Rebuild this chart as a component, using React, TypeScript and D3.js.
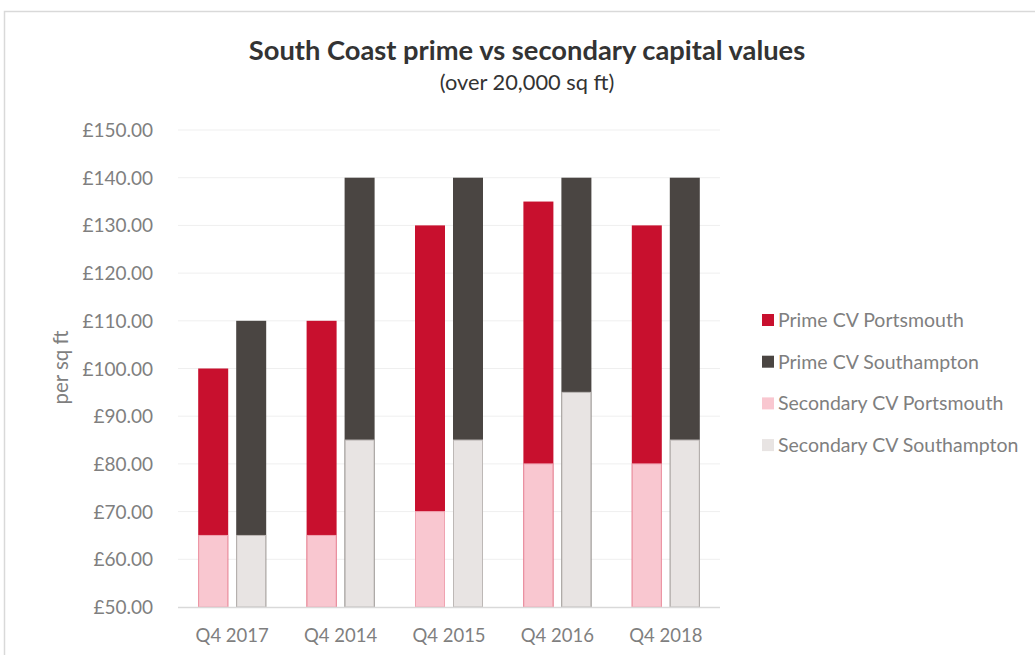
import React from "react";
import * as d3 from "d3";

const categories = ["Q4 2017", "Q4 2014", "Q4 2015", "Q4 2016", "Q4 2018"];
const primePortsmouth = [100, 110, 130, 135, 130];
const primeSouthampton = [110, 140, 140, 140, 140];
const secondaryPortsmouth = [65, 65, 70, 80, 80];
const secondarySouthampton = [65, 85, 85, 95, 85];
const yTicks = [50, 60, 70, 80, 90, 100, 110, 120, 130, 140, 150];
const legendLabels = [
  "Prime CV Portsmouth",
  "Prime CV Southampton",
  "Secondary CV Portsmouth",
  "Secondary CV Southampton",
];

const W = 1035;
const H = 655;
const FONT = "Lato, 'Open Sans', sans-serif";

export default function App() {
  const left = 178, right = 720, top = 130, bottom = 607;
  const x = d3.scaleBand<string>().domain(categories).range([left, right]);
  const y = d3.scaleLinear().domain([50, 150]).range([bottom, top]);
  const barW = 30;
  const gap = 8;
  const colors = ["#c8102e", "#4a4542", "#f9c7d0", "#e8e4e3"];
  const strokes = ["none", "none", "#f0a3b1", "#bdb8b6"];

  const bars: JSX.Element[] = [];
  categories.forEach((c, i) => {
    const cx = (x(c) as number) + x.bandwidth() / 2;
    const lx = cx - gap / 2 - barW;
    const rx = cx + gap / 2;
    const series = [
      { v: primePortsmouth[i], xx: lx, k: 0 },
      { v: primeSouthampton[i], xx: rx, k: 1 },
      { v: secondaryPortsmouth[i], xx: lx, k: 2 },
      { v: secondarySouthampton[i], xx: rx, k: 3 },
    ];
    series.forEach((s) => {
      bars.push(
        <rect
          key={`${c}-${s.k}`}
          x={s.xx + (s.k >= 2 ? 0.5 : 0)}
          y={y(s.v)}
          width={barW - (s.k >= 2 ? 1 : 0)}
          height={bottom - y(s.v)}
          fill={colors[s.k]}
          stroke={strokes[s.k]}
          strokeWidth={1}
        />
      );
    });
  });

  return (
    <svg
      width={W}
      height={H}
      style={{ position: "absolute", left: 0, top: 0, background: "#fff" }}
    >
      <rect x={4.5} y={11.5} width={W + 10} height={H + 10} fill="#fff" stroke="#d9d9d9" strokeWidth={1.5} />
      <text x={527} y={60} textAnchor="middle" fontFamily={FONT} fontWeight="bold" fontSize={27.3} fill="#333">
        South Coast prime vs secondary capital values
      </text>
      <text x={527} y={90} textAnchor="middle" fontFamily={FONT} fontSize={21.8} fill="#333">
        (over 20,000 sq ft)
      </text>
      {yTicks.map((t) => (
        <g key={t}>
          {t > 50 && (
            <line x1={left} x2={right} y1={y(t)} y2={y(t)} stroke="#efefef" strokeWidth={1} />
          )}
          <text x={153} y={y(t) + 7} textAnchor="end" fontFamily={FONT} fontSize={19} fill="#7f7f7f">
            {`£${t.toFixed(2)}`}
          </text>
        </g>
      ))}
      {bars}
      <line x1={left} x2={right} y1={bottom + 0.5} y2={bottom + 0.5} stroke="#d9d9d9" strokeWidth={1.5} />
      {categories.map((c) => (
        <text
          key={c}
          x={(x(c) as number) + x.bandwidth() / 2}
          y={642}
          textAnchor="middle"
          fontFamily={FONT}
          fontSize={18.5}
          fill="#7f7f7f"
        >
          {c}
        </text>
      ))}
      <text
        transform={`translate(68,${(top + bottom) / 2 - 1}) rotate(-90)`}
        textAnchor="middle"
        fontFamily={FONT}
        fontSize={20.5}
        fill="#7f7f7f"
      >
        per sq ft
      </text>
      {legendLabels.map((l, i) => {
        const ly = 320 + i * 41.7;
        return (
          <g key={l}>
            <rect x={762} y={ly - 6} width={12} height={12} fill={colors[i]} />
            <text x={778} y={ly + 7} fontFamily={FONT} fontSize={19.5} fill="#7f7f7f">
              {l}
            </text>
          </g>
        );
      })}
    </svg>
  );
}
